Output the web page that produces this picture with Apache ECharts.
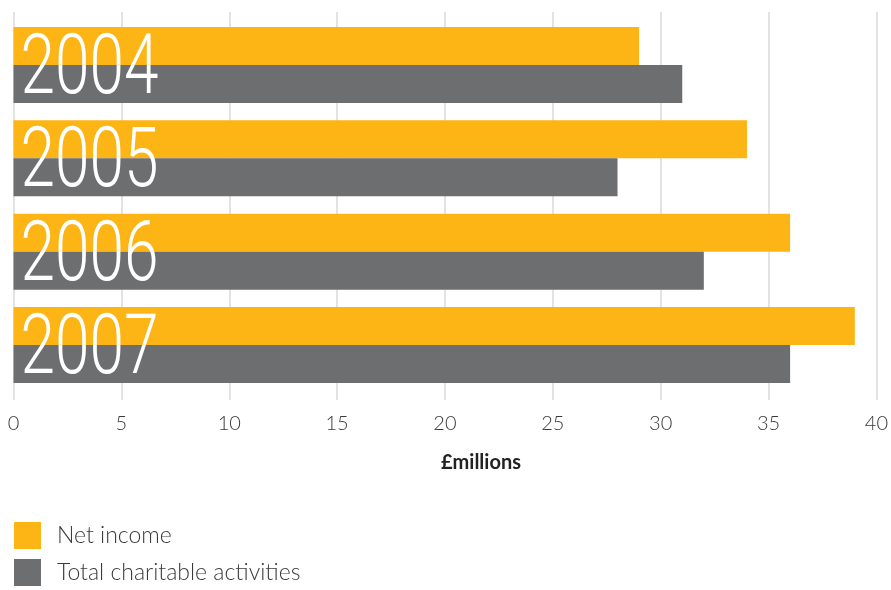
<!DOCTYPE html>
<html>
<head>
<meta charset="utf-8">
<script src="https://cdn.jsdelivr.net/npm/echarts@6/dist/echarts.min.js"></script>
<style>html,body{margin:0;padding:0;background:#fff}#c{width:891px;height:590px}</style>
</head>
<body>
<div id="c"></div>
<script>
const years = ['2004', '2005', '2006', '2007'];
const netIncome = [29, 34, 36, 39];
const charitable = [31, 28, 32, 36];
const xTicks = [0, 5, 10, 15, 20, 25, 30, 35, 40];
const seriesNames = ['Net income', 'Total charitable activities'];
const axisTitle = '£millions';

const chart = echarts.init(document.getElementById('c'));
const lightFont = 'Lato, "Open Sans", sans-serif';
chart.setOption({
  animation: false,
  legend: {
    orient: 'vertical', left: 14, top: 522, itemWidth: 27, itemHeight: 27, itemGap: 10,
    icon: 'rect', padding: 0,
    textStyle: { fontSize: 23, color: '#3a3a3a', fontFamily: lightFont, fontWeight: 300, padding: [10, 0, 0, 11] },
    data: seriesNames
  },
  grid: [
    { left: 13.5, right: 14.5, top: 18.3, bottom: 198.3 },
    { left: 13.5, right: 14.5, top: 12, bottom: 190 }
  ],
  xAxis: [
    {
      gridIndex: 0, type: 'value', min: xTicks[0], max: xTicks[xTicks.length - 1], interval: 5,
      axisLine: { show: false }, axisTick: { show: false }, splitLine: { show: false },
      axisLabel: { margin: 22, fontSize: 20, color: '#3a3a3a', fontFamily: lightFont, fontWeight: 300 },
      name: axisTitle, nameLocation: 'middle', nameGap: 61,
      nameTextStyle: { fontSize: 20, color: '#222', fontFamily: lightFont, fontWeight: 'bold', padding: [0, 0, 0, 72] }
    },
    {
      gridIndex: 1, type: 'value', min: xTicks[0], max: xTicks[xTicks.length - 1], interval: 5,
      axisLine: { show: false }, axisTick: { show: false }, axisLabel: { show: false },
      splitLine: { show: true, lineStyle: { color: '#d9d9d9', width: 1.5 } }
    }
  ],
  yAxis: [
    {
      gridIndex: 0, type: 'category', data: years, inverse: true,
      axisLine: { show: false }, axisTick: { show: false }, axisLabel: { show: false }
    },
    { gridIndex: 1, type: 'value', show: false }
  ],
  series: [
    { name: seriesNames[0], type: 'bar', data: netIncome, barWidth: 38, barGap: '0%',
      itemStyle: { color: '#FDB515' }, xAxisIndex: 0, yAxisIndex: 0 },
    { name: seriesNames[1], type: 'bar', data: charitable, barWidth: 38, barGap: '0%',
      itemStyle: { color: '#6D6E70' }, xAxisIndex: 0, yAxisIndex: 0 },
    {
      type: 'custom', xAxisIndex: 0, yAxisIndex: 0, z: 10, silent: true,
      data: years.map(y => [0, y]),
      renderItem: function (params, api) {
        const p = api.coord([0, api.value(1)]);
        return {
          type: 'text', x: p[0] + 7, y: p[1] + 7, scaleX: 0.74, scaleY: 1,
          style: {
            text: years[params.dataIndex], fill: '#fff', fontSize: 84,
            fontFamily: 'Roboto, "Noto Sans", sans-serif', fontWeight: 300,
            align: 'left', verticalAlign: 'middle'
          }
        };
      }
    }
  ]
});
</script>
</body>
</html>
